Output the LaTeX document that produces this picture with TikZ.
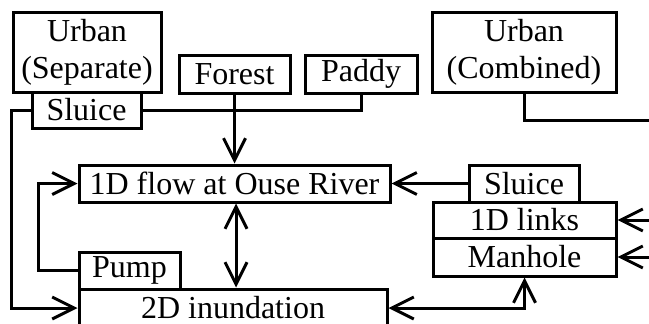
\documentclass[tikz,border=0pt]{standalone}
\usepackage{fontspec}
\setmainfont{Liberation Serif}
\usetikzlibrary{arrows.meta, positioning}

\begin{document}
\begin{tikzpicture}[x=1pt, y=-1pt, line width=3pt,
    font=\fontsize{32}{37}\selectfont,
    box/.style={draw, inner sep=0pt, align=center},
    arr/.style={-{Straight Barb[length=22pt, width=22pt]}},
    darr/.style={{Straight Barb[length=22pt, width=22pt]}-{Straight Barb[length=22pt, width=22pt]}}]
    \useasboundingbox (0, 0) rectangle (649, 324);
    \clip (0, 0) rectangle (649, 324);

    \node[box, minimum width=148pt, minimum height=80pt] (urbanS) at (87, 52) {Urban\\(Separate)};
    \node[box, minimum width=109pt, minimum height=36pt] (sluiceA) at (86.5, 110) {Sluice};
    \node[box, minimum width=111pt, minimum height=38pt] (forest) at (234.5, 74) {Forest};
    \node[box, minimum width=112pt, minimum height=38pt] (paddy) at (361, 74) {Paddy};
    \node[box, minimum width=184pt, minimum height=80pt] (urbanC) at (524, 52) {Urban\\(Combined)};
    \node[box, minimum width=311pt, minimum height=37pt] (flow1d) at (234.5, 183.5) {1D flow at Ouse River};
    \node[box, minimum width=110pt, minimum height=37pt] (sluiceB) at (524, 183.5) {Sluice};
    \node[box, minimum width=183pt, minimum height=36pt] (links) at (524.5, 220) {1D links};
    \node[box, minimum width=183pt, minimum height=38pt] (manhole) at (524.5, 257) {Manhole};
    \node[box, minimum width=101pt, minimum height=37pt] (pump) at (129.5, 270.5) {Pump};
    \node[box, minimum width=308pt, minimum height=38pt] (inund) at (233, 308) {2D inundation};

    % free ends at the right edge
    \coordinate (edgeC) at (652, 120);
    \coordinate (edgeL) at (652, 220);
    \coordinate (edgeM) at (652, 257);

    \draw[arr] (sluiceA.west) -- (sluiceA.west -| urbanS.west) |- (inund.west);
    \draw (sluiceA.east) -| (paddy.south);
    \draw[arr] (forest.south) -- (flow1d.north);
    \draw[arr] (pump.west) -- ++(-39, 0) |- (flow1d.west);
    \draw[darr] (flow1d.south -| 236, 0) -- (inund.north -| 236, 0);
    \draw[arr] (sluiceB.west) -- (flow1d.east);
    \draw[arr] (edgeL) -- (links.east);
    \draw[arr] (edgeM) -- (manhole.east);
    \draw[darr] (inund.east) -| (manhole.south);
    \draw (urbanC.south) |- (edgeC);
\end{tikzpicture}
\end{document}
